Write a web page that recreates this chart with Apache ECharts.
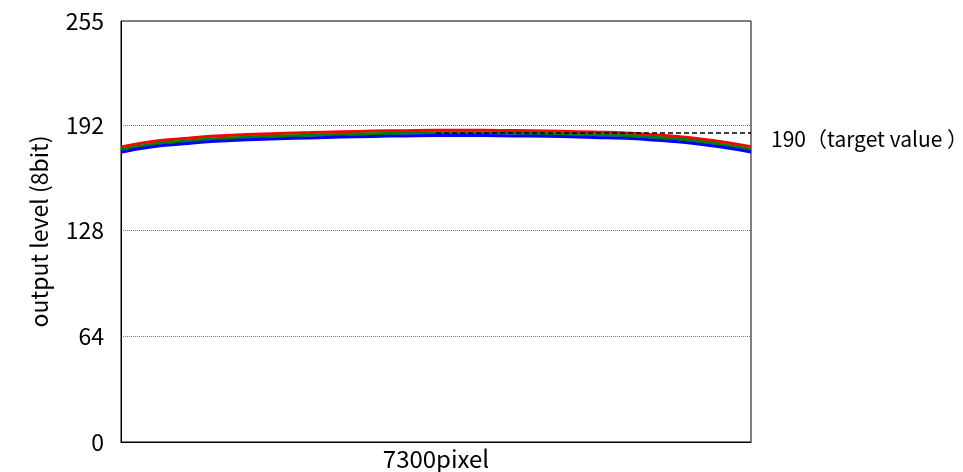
<!DOCTYPE html>
<html><head><meta charset="utf-8">
<script src="https://cdn.jsdelivr.net/npm/echarts@6/dist/echarts.min.js"></script>
<style>html,body{margin:0;padding:0;background:#fff}#c{width:963px;height:472px}</style>
</head><body><div id="c"></div>
<script>
const xPixels = [0,365,730,1095,1460,1825,2190,2555,2920,3285,3650,4015,4380,4745,5110,5475,5840,6205,6570,6935,7300];
const redValues   = [178.7,182.0,183.8,185.3,186.2,186.9,187.4,187.9,188.3,188.6,188.8,188.8,188.7,188.5,188.2,187.7,187.2,186.0,184.5,182.0,178.9];
const greenValues = [177.1,180.4,182.2,183.7,184.6,185.3,185.8,186.3,186.7,187.0,187.2,187.2,187.1,186.9,186.6,186.1,185.6,184.4,182.9,180.4,177.3];
const blueValues  = [175.5,178.8,180.6,182.1,183.0,183.7,184.2,184.7,185.1,185.4,185.6,185.6,185.5,185.3,185.0,184.5,184.0,182.8,181.3,178.8,175.7];
const yTicks = [0,64,128,192,255];
const targetLevel = 187.5;
const targetLabel = '190（target value ）';
const targetStart = 3650, xMax = 7300;

const font = '"Noto Sans CJK JP", "Noto Sans", sans-serif';
function pts(v){ return xPixels.map((x,i)=>[x,v[i]]); }
const chart = echarts.init(document.getElementById('c'));
chart.setOption({
  animation:false,
  grid:{left:121,top:21,width:630,height:421,outerBoundsMode:'none',containLabel:false,show:true,borderColor:'#000',borderWidth:1,backgroundColor:'transparent'},
  xAxis:{type:'value',min:0,max:xMax,name:'7300pixel',nameLocation:'middle',nameGap:5,
    nameTextStyle:{fontFamily:font,fontSize:24,color:'#000'},
    axisLine:{show:true,lineStyle:{color:'#000',width:1}},axisTick:{show:false},axisLabel:{show:false},splitLine:{show:false}},
  yAxis:{type:'value',min:0,max:255,interval:64,name:'output level (8bit)',nameLocation:'middle',nameGap:70,
    nameTextStyle:{fontFamily:font,fontSize:23,color:'#000'},
    axisLine:{show:true,lineStyle:{color:'#000',width:1}},axisTick:{show:false},
    axisLabel:{fontFamily:font,fontSize:23,color:'#000',margin:17,
      formatter:v=>yTicks.includes(v)?String(v):''},
    splitLine:{show:true,lineStyle:{color:'#777',type:'dotted',width:1}}},
  series:[
    {type:'line',data:pts(redValues),showSymbol:false,smooth:true,lineStyle:{color:'#ff0000',width:3},z:2},
    {type:'line',data:pts(greenValues),showSymbol:false,smooth:true,lineStyle:{color:'#008000',width:3},z:3},
    {type:'line',data:pts(blueValues),showSymbol:false,smooth:true,lineStyle:{color:'#0000ff',width:3},z:4,
     markLine:{silent:true,symbol:['none','none'],
       lineStyle:{color:'#000',type:[5,3],width:1.5},
       label:{show:true,position:'end',formatter:targetLabel,fontFamily:font,fontSize:21,color:'#000',distance:20,verticalAlign:'top',lineHeight:14},
       data:[[{coord:[targetStart,targetLevel]},{coord:[xMax,targetLevel]}]]}}
  ]
});
</script></body></html>
